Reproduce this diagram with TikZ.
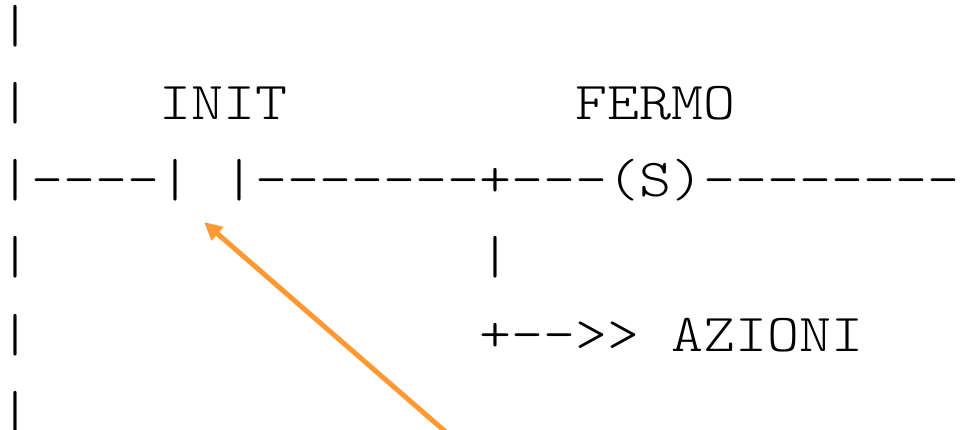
\documentclass[tikz,border=0pt]{standalone}
\usepackage{fontspec}
\newfontfamily\ladderfont{lmmonolt10-regular.otf}[FakeStretch=1.143]
\usepackage{xcolor}
\definecolor{arrorange}{HTML}{FF9933}
\usetikzlibrary{arrows.meta}

\begin{document}
\begin{tikzpicture}[x=1pt, y=-1pt,
  rung/.style={anchor=base west, inner sep=0pt, font=\ladderfont\fontsize{53.33}{64}\selectfont},
  arr/.style={-{Triangle[length=18pt,width=17pt]}, line width=5pt, arrorange}]
  \useasboundingbox (0,0) rectangle (961,430);
  % left rail
  \node[rung] (r1) at (-1,43) {|};
  \node[rung] (r2) at (-1,120) {|};
  \node[rung] (r4) at (-1,274) {|};
  \node[rung] (r5) at (-1,351) {|};
  \node[rung] (r6) at (-1,428) {|};
  % labels
  \node[rung] (init) at (159,120) {INIT};
  \node[rung] (fermo) at (575,120) {FERMO};
  % rung with contact and coil
  \node[rung] (rung) at (-1,197) {|----| |-------+---(S)--------};
  \node[rung] (branch) at (479,274) {|};
  \node[rung] (azioni) at (479,351) {+-->> AZIONI};
  % pointer to the contact
  \coordinate (tail) at (447,433);
  \coordinate (contact) at (204,222);
  \draw[arr] (tail) -- (contact);
\end{tikzpicture}
\end{document}
